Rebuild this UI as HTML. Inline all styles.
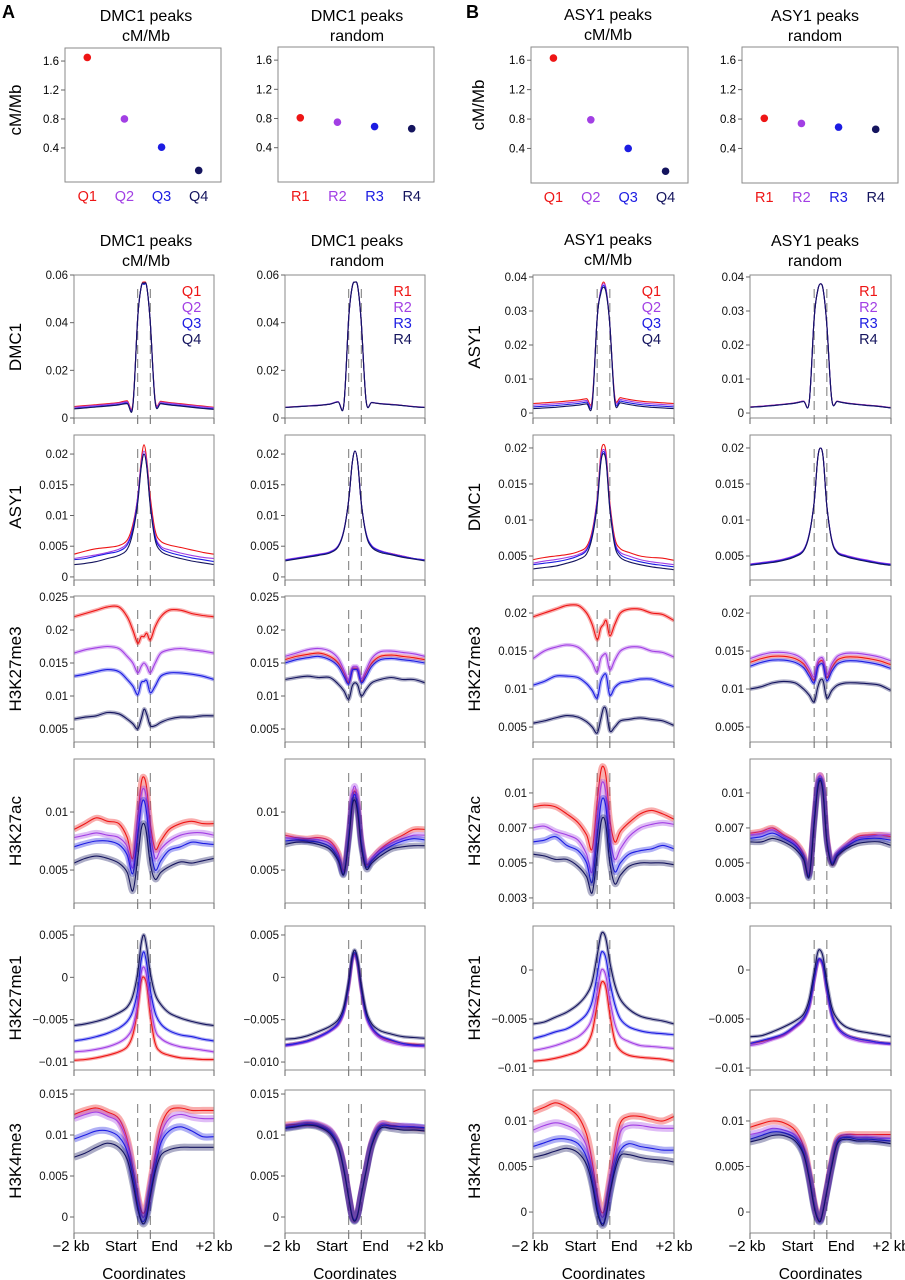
<!DOCTYPE html>
<html><head><meta charset="utf-8">
<style>
html,body{margin:0;padding:0;background:#fff;}
svg{display:block;font-family:"Liberation Sans",Arial,sans-serif;}
</style></head>
<body>
<svg id="fig" width="905" height="1280" viewBox="0 0 905 1280" xmlns="http://www.w3.org/2000/svg">
<text x="2" y="18" font-size="18" font-weight="bold">A</text>
<text x="466" y="18" font-size="18" font-weight="bold">B</text>
</svg>
<script>
// ---------- data ----------
const colors = ["#ee1515","#a23fe4","#1c1ce2","#14145e"];
const xPoints = [0,8,16,24,32,38,42,45.5,48,50,52,54.5,58,62,68,76,84,92,100];
const qLabels = ["Q1","Q2","Q3","Q4"];
const rLabels = ["R1","R2","R3","R4"];
const scatterTicks = [0.4,0.8,1.2,1.6];
const dmc1Quart = [1.65,0.80,0.41,0.09];
const dmc1Rand = [0.81,0.75,0.69,0.66];
const asy1Quart = [1.63,0.79,0.40,0.09];
const asy1Rand = [0.81,0.74,0.69,0.66];

const aDmc1Q = [
[0.0048,0.0052,0.0056,0.006,0.0065,0.0072,0.0058,0.042,0.055,0.057,0.055,0.04,0.0075,0.007,0.0065,0.006,0.0055,0.005,0.0045],
[0.0045,0.0049,0.0053,0.0057,0.0062,0.0068,0.0055,0.042,0.055,0.0565,0.055,0.04,0.0072,0.0067,0.0062,0.0057,0.0052,0.0047,0.0043],
[0.004,0.0044,0.0048,0.0052,0.0057,0.0063,0.005,0.042,0.055,0.056,0.055,0.04,0.0067,0.0062,0.0057,0.0052,0.0047,0.0042,0.0038],
[0.0038,0.0042,0.0046,0.005,0.0055,0.006,0.0048,0.042,0.055,0.0565,0.055,0.04,0.0065,0.006,0.0055,0.005,0.0045,0.004,0.0036]];
const aDmc1R = [
[0.0045,0.0048,0.005,0.0053,0.0058,0.0068,0.0055,0.042,0.055,0.057,0.055,0.04,0.007,0.0065,0.006,0.0057,0.0053,0.0048,0.0045],
[0.0045,0.0048,0.0051,0.0054,0.0059,0.0069,0.0055,0.042,0.055,0.057,0.055,0.04,0.007,0.0066,0.0061,0.0057,0.0053,0.0048,0.0045],
[0.0044,0.0047,0.005,0.0053,0.0058,0.0067,0.0054,0.042,0.055,0.057,0.055,0.04,0.0069,0.0065,0.006,0.0056,0.0052,0.0047,0.0044],
[0.0044,0.0047,0.005,0.0053,0.0058,0.0067,0.0054,0.042,0.055,0.057,0.055,0.04,0.0069,0.0065,0.006,0.0056,0.0052,0.0047,0.0044]];
const aAsy1Q = [
[0.0037,0.0042,0.0046,0.0048,0.0051,0.006,0.0085,0.013,0.019,0.0215,0.019,0.013,0.0075,0.0058,0.0052,0.0048,0.0044,0.004,0.0037],
[0.003,0.0033,0.0036,0.004,0.0045,0.0055,0.008,0.013,0.0185,0.0205,0.0185,0.012,0.0068,0.005,0.0044,0.0039,0.0035,0.0032,0.003],
[0.0028,0.003,0.0034,0.0038,0.0042,0.0052,0.0078,0.0125,0.018,0.02,0.018,0.0118,0.0065,0.0047,0.004,0.0035,0.0031,0.0028,0.0025],
[0.002,0.0022,0.0025,0.003,0.0035,0.0045,0.0072,0.012,0.0178,0.02,0.0178,0.0115,0.006,0.0042,0.0035,0.003,0.0026,0.0023,0.002]];
const aAsy1R = [
[0.0028,0.003,0.0033,0.0036,0.004,0.005,0.0075,0.0125,0.0185,0.0205,0.0185,0.012,0.007,0.005,0.0042,0.0038,0.0034,0.003,0.0028],
[0.0028,0.0031,0.0034,0.0037,0.0041,0.0051,0.0076,0.0125,0.0185,0.0205,0.0185,0.012,0.0071,0.0051,0.0043,0.0038,0.0034,0.003,0.0028],
[0.0027,0.003,0.0033,0.0036,0.004,0.005,0.0075,0.0125,0.0185,0.0205,0.0185,0.012,0.007,0.005,0.0042,0.0037,0.0033,0.003,0.0027],
[0.0026,0.0029,0.0032,0.0035,0.0039,0.0049,0.0074,0.0125,0.0185,0.0205,0.0185,0.012,0.0068,0.0048,0.004,0.0036,0.0032,0.0029,0.0026]];
const aK27me3Q = [
[0.022,0.0225,0.023,0.0235,0.0235,0.022,0.02,0.018,0.019,0.019,0.0195,0.0185,0.0205,0.022,0.023,0.023,0.0225,0.0222,0.022],
[0.0165,0.017,0.0173,0.0175,0.0172,0.016,0.015,0.0135,0.0145,0.015,0.0145,0.0135,0.015,0.0165,0.017,0.0172,0.017,0.0168,0.0165],
[0.013,0.0133,0.0137,0.014,0.0137,0.0125,0.0115,0.0102,0.012,0.0122,0.0123,0.0105,0.0115,0.013,0.0135,0.0135,0.0133,0.013,0.0125],
[0.0065,0.0068,0.007,0.0075,0.0073,0.0065,0.0058,0.005,0.0065,0.008,0.0072,0.0055,0.0055,0.006,0.0065,0.0068,0.0068,0.007,0.007]];
const aK27me3R = [
[0.0155,0.016,0.0163,0.0165,0.016,0.015,0.0135,0.012,0.014,0.0142,0.014,0.0122,0.0135,0.015,0.016,0.0162,0.016,0.0158,0.0155],
[0.016,0.0165,0.017,0.0172,0.0168,0.0157,0.014,0.0125,0.0143,0.0145,0.0143,0.0126,0.014,0.0157,0.0167,0.0168,0.0166,0.0164,0.016],
[0.015,0.0155,0.0158,0.016,0.0155,0.0145,0.013,0.0118,0.0138,0.014,0.0138,0.012,0.013,0.0145,0.0155,0.0157,0.0155,0.0153,0.015],
[0.0125,0.0128,0.013,0.0128,0.0128,0.0118,0.0108,0.0095,0.0115,0.012,0.0116,0.01,0.011,0.012,0.0125,0.0128,0.0125,0.0125,0.012]];
const aK27acQ = [
[0.0085,0.009,0.0095,0.0092,0.009,0.0078,0.006,0.0095,0.0125,0.013,0.012,0.009,0.0068,0.0075,0.0085,0.009,0.0092,0.009,0.009],
[0.0078,0.008,0.0082,0.008,0.0078,0.007,0.0052,0.009,0.0115,0.012,0.011,0.0082,0.006,0.0068,0.0075,0.008,0.0082,0.0082,0.008],
[0.007,0.0073,0.0075,0.0075,0.0072,0.0063,0.0047,0.008,0.0105,0.011,0.0098,0.007,0.005,0.0058,0.0067,0.007,0.0074,0.0073,0.0072],
[0.0056,0.006,0.0062,0.006,0.0056,0.0048,0.0032,0.006,0.0085,0.009,0.008,0.0055,0.0042,0.0048,0.0053,0.0057,0.0056,0.0058,0.006]];
const aK27acR = [
[0.008,0.0078,0.0077,0.0078,0.0075,0.0065,0.005,0.008,0.011,0.0118,0.0105,0.0075,0.0055,0.006,0.0068,0.0075,0.008,0.0085,0.0085],
[0.0078,0.0077,0.0076,0.0076,0.0073,0.0063,0.0049,0.0082,0.0115,0.0122,0.0108,0.0076,0.0056,0.006,0.0067,0.0073,0.0077,0.008,0.008],
[0.0075,0.0076,0.0075,0.0074,0.007,0.006,0.0047,0.0078,0.0108,0.0115,0.0102,0.0073,0.0053,0.0058,0.0065,0.0071,0.0075,0.0077,0.0076],
[0.0072,0.0074,0.0074,0.0072,0.0068,0.0058,0.0046,0.0075,0.0105,0.011,0.0098,0.007,0.0051,0.0056,0.0062,0.0068,0.007,0.0071,0.0071]];
const aK27me1Q = [
[-0.0098,-0.0097,-0.0095,-0.0092,-0.0088,-0.0082,-0.0068,-0.0038,-0.0005,0.0,-0.001,-0.0045,-0.0078,-0.0088,-0.0092,-0.0095,-0.0096,-0.0097,-0.0097],
[-0.0088,-0.0087,-0.0085,-0.0082,-0.0077,-0.007,-0.0058,-0.003,0.0005,0.0012,0.0,-0.003,-0.0062,-0.0072,-0.0078,-0.0082,-0.0084,-0.0086,-0.0088],
[-0.0075,-0.0073,-0.007,-0.0066,-0.006,-0.0052,-0.004,-0.0015,0.002,0.003,0.0015,-0.0015,-0.0042,-0.0055,-0.0063,-0.0068,-0.007,-0.0073,-0.0075],
[-0.0057,-0.0055,-0.0052,-0.0048,-0.0042,-0.0035,-0.0022,0.0005,0.004,0.005,0.0035,0.0005,-0.002,-0.0032,-0.0042,-0.0048,-0.0052,-0.0055,-0.0057]];
const aK27me1R = [
[-0.008,-0.0078,-0.0075,-0.007,-0.0063,-0.0055,-0.004,-0.001,0.002,0.0027,0.0015,-0.0015,-0.0045,-0.006,-0.007,-0.0075,-0.0078,-0.0079,-0.008],
[-0.0081,-0.0079,-0.0076,-0.0071,-0.0064,-0.0056,-0.0041,-0.0011,0.0019,0.0025,0.0014,-0.0016,-0.0047,-0.0062,-0.0072,-0.0077,-0.008,-0.0081,-0.0082],
[-0.008,-0.0078,-0.0075,-0.007,-0.0063,-0.0054,-0.0039,-0.0008,0.0022,0.0029,0.0017,-0.0013,-0.0044,-0.0059,-0.0069,-0.0074,-0.0078,-0.008,-0.008],
[-0.0073,-0.0072,-0.0069,-0.0064,-0.0058,-0.005,-0.0035,-0.0005,0.0025,0.0032,0.002,-0.001,-0.004,-0.0055,-0.0063,-0.0067,-0.007,-0.0071,-0.0072]];
const aK4me3Q = [
[0.0125,0.013,0.0133,0.0128,0.012,0.0095,0.006,0.0025,0.0008,0.0005,0.0015,0.004,0.0075,0.011,0.013,0.0133,0.013,0.013,0.013],
[0.012,0.0125,0.0128,0.0123,0.0115,0.009,0.0055,0.002,0.0003,0.0,0.001,0.0035,0.0068,0.01,0.012,0.0125,0.0122,0.012,0.012],
[0.0095,0.01,0.0105,0.0105,0.0098,0.008,0.005,0.0015,-0.0003,-0.0005,0.0005,0.003,0.006,0.009,0.0105,0.011,0.0105,0.0098,0.0098],
[0.0073,0.0078,0.0085,0.009,0.0085,0.007,0.0042,0.001,-0.0005,-0.0008,0.0,0.0025,0.0055,0.0075,0.0082,0.0085,0.0085,0.0085,0.0085]];
const aK4me3R = [
[0.0112,0.0113,0.0114,0.0112,0.0105,0.0088,0.006,0.0025,0.0002,-0.0003,0.0005,0.0028,0.0058,0.009,0.0112,0.0112,0.011,0.0109,0.0108],
[0.011,0.0112,0.0115,0.0113,0.0106,0.0088,0.006,0.0025,0.0002,-0.0003,0.0005,0.0028,0.0058,0.009,0.0113,0.011,0.0111,0.011,0.0108],
[0.0109,0.0111,0.0113,0.0111,0.0104,0.0087,0.0059,0.0024,0.0001,-0.0004,0.0004,0.0027,0.0057,0.0089,0.011,0.0111,0.011,0.011,0.0109],
[0.0108,0.011,0.0112,0.011,0.0102,0.0085,0.0057,0.0023,0.0,-0.0005,0.0003,0.0026,0.0056,0.0087,0.0108,0.0108,0.0106,0.0106,0.0105]];

const bAsy1Q = [
[0.0028,0.003,0.0032,0.0035,0.0038,0.0042,0.004,0.028,0.036,0.0385,0.036,0.026,0.0048,0.0045,0.004,0.0035,0.0032,0.003,0.0028],
[0.0023,0.0025,0.0027,0.003,0.0033,0.0037,0.0035,0.028,0.036,0.038,0.036,0.026,0.0043,0.004,0.0035,0.003,0.0027,0.0025,0.0023],
[0.0018,0.002,0.0022,0.0025,0.0028,0.0032,0.003,0.028,0.0355,0.0375,0.0355,0.026,0.0038,0.0035,0.003,0.0025,0.0022,0.002,0.0018],
[0.0013,0.0015,0.0017,0.002,0.0023,0.0027,0.0025,0.028,0.035,0.037,0.035,0.026,0.0033,0.003,0.0025,0.002,0.0017,0.0015,0.0013]];
const bAsy1R = [
[0.0018,0.002,0.0023,0.0026,0.003,0.0035,0.0033,0.028,0.036,0.038,0.036,0.026,0.004,0.0035,0.003,0.0026,0.0023,0.002,0.0016],
[0.0018,0.002,0.0023,0.0026,0.003,0.0035,0.0033,0.028,0.036,0.038,0.036,0.026,0.004,0.0035,0.003,0.0026,0.0023,0.002,0.0016],
[0.0017,0.0019,0.0022,0.0025,0.0029,0.0034,0.0032,0.028,0.036,0.038,0.036,0.026,0.0039,0.0034,0.0029,0.0025,0.0022,0.0019,0.0015],
[0.0017,0.0019,0.0022,0.0025,0.0029,0.0034,0.0032,0.028,0.036,0.038,0.036,0.026,0.0039,0.0034,0.0029,0.0025,0.0022,0.0019,0.0015]];
const bDmc1Q = [
[0.0045,0.0048,0.005,0.0052,0.0056,0.0063,0.0085,0.013,0.019,0.0205,0.019,0.0125,0.0075,0.006,0.0055,0.005,0.0048,0.0047,0.0044],
[0.004,0.0043,0.0045,0.0048,0.0052,0.006,0.0082,0.0128,0.0185,0.0198,0.0185,0.012,0.007,0.0055,0.005,0.0045,0.0042,0.004,0.0038],
[0.0038,0.004,0.0042,0.0045,0.005,0.0058,0.008,0.0125,0.018,0.0195,0.018,0.0118,0.0068,0.0052,0.0046,0.0042,0.0039,0.0037,0.0035],
[0.0032,0.0034,0.0036,0.004,0.0045,0.0053,0.0076,0.012,0.0178,0.0192,0.0178,0.0115,0.0064,0.0048,0.0042,0.0038,0.0035,0.0033,0.0031]];
const bDmc1R = [
[0.0038,0.004,0.0042,0.0045,0.005,0.0058,0.008,0.0125,0.0185,0.02,0.0185,0.012,0.0072,0.0055,0.005,0.0046,0.0043,0.004,0.0038],
[0.0039,0.0041,0.0043,0.0046,0.0051,0.0059,0.0081,0.0125,0.0185,0.02,0.0185,0.012,0.0073,0.0056,0.0051,0.0047,0.0044,0.0041,0.0039],
[0.0038,0.004,0.0042,0.0045,0.005,0.0058,0.008,0.0125,0.0185,0.02,0.0185,0.012,0.0072,0.0055,0.005,0.0046,0.0043,0.004,0.0038],
[0.0037,0.0039,0.0041,0.0044,0.0049,0.0057,0.0079,0.0125,0.0185,0.02,0.0185,0.012,0.0071,0.0054,0.0049,0.0045,0.0042,0.0039,0.0037]];
const bK27me3Q = [
[0.0195,0.02,0.0205,0.021,0.021,0.02,0.0185,0.0165,0.018,0.0185,0.019,0.017,0.0185,0.02,0.0205,0.0205,0.02,0.0198,0.019],
[0.014,0.015,0.0155,0.0158,0.0155,0.0145,0.0135,0.0122,0.014,0.0145,0.0145,0.0125,0.0138,0.015,0.0155,0.0155,0.015,0.0148,0.0142],
[0.0105,0.011,0.0117,0.0117,0.0115,0.0107,0.0098,0.0088,0.011,0.0118,0.0118,0.0092,0.0102,0.0108,0.011,0.0113,0.0113,0.0108,0.0103],
[0.0055,0.0058,0.0062,0.0065,0.0063,0.0057,0.005,0.0042,0.006,0.0075,0.0072,0.0045,0.005,0.0058,0.006,0.0062,0.006,0.0058,0.0052]];
const bK27me3R = [
[0.0135,0.014,0.0143,0.0143,0.014,0.0133,0.0122,0.0112,0.0132,0.0137,0.0135,0.0115,0.0128,0.0138,0.0142,0.0142,0.014,0.0137,0.0132],
[0.014,0.0145,0.0148,0.0148,0.0145,0.0138,0.0127,0.0116,0.0136,0.0141,0.0139,0.0119,0.0133,0.0143,0.0147,0.0147,0.0145,0.0142,0.0137],
[0.013,0.0135,0.0138,0.0138,0.0135,0.0128,0.0117,0.0108,0.0128,0.0133,0.0131,0.0111,0.0123,0.0133,0.0137,0.0137,0.0135,0.0132,0.0127],
[0.01,0.0103,0.0108,0.011,0.0108,0.01,0.0092,0.0083,0.0102,0.0112,0.011,0.0088,0.0098,0.0105,0.0108,0.0108,0.0107,0.0105,0.0098]];
const bK27acQ = [
[0.0082,0.0083,0.0082,0.0078,0.0073,0.0066,0.0058,0.0085,0.0102,0.0105,0.0098,0.0075,0.0062,0.0068,0.0073,0.0078,0.008,0.0078,0.0075],
[0.007,0.0071,0.0068,0.0066,0.0063,0.0055,0.0045,0.0075,0.0093,0.0096,0.0088,0.0065,0.0052,0.0058,0.0065,0.007,0.0072,0.0073,0.0072],
[0.0062,0.0063,0.0065,0.006,0.0057,0.005,0.0039,0.0065,0.0083,0.0087,0.008,0.0058,0.0045,0.005,0.0055,0.0057,0.0058,0.006,0.0058],
[0.0055,0.0054,0.0052,0.0052,0.0048,0.0042,0.0033,0.0055,0.0072,0.0076,0.007,0.005,0.0038,0.0043,0.0048,0.005,0.005,0.005,0.0049]];
const bK27acR = [
[0.0067,0.0068,0.007,0.0066,0.0062,0.0055,0.0044,0.0075,0.0095,0.01,0.0092,0.0065,0.005,0.0055,0.006,0.0065,0.0066,0.0066,0.0065],
[0.0066,0.0067,0.0069,0.0065,0.0061,0.0054,0.0044,0.0076,0.0096,0.01,0.0092,0.0065,0.0051,0.0056,0.006,0.0064,0.0065,0.0066,0.0066],
[0.0064,0.0065,0.0067,0.0064,0.006,0.0053,0.0043,0.0074,0.0094,0.0098,0.009,0.0063,0.005,0.0055,0.0059,0.0063,0.0064,0.0064,0.0063],
[0.0062,0.0062,0.0064,0.0062,0.0058,0.0052,0.0042,0.0072,0.0092,0.0097,0.0088,0.0062,0.0049,0.0054,0.0058,0.0061,0.0062,0.0062,0.006]];
const bK27me1Q = [
[-0.0093,-0.0092,-0.009,-0.0087,-0.0083,-0.0076,-0.0063,-0.0035,-0.0015,-0.0012,-0.002,-0.0045,-0.0072,-0.0082,-0.0087,-0.0089,-0.009,-0.0091,-0.0093],
[-0.0082,-0.008,-0.0077,-0.0073,-0.0068,-0.006,-0.0048,-0.0022,-0.0002,0.0,-0.0008,-0.003,-0.0055,-0.0068,-0.0073,-0.0077,-0.0078,-0.0079,-0.008],
[-0.007,-0.0067,-0.0063,-0.006,-0.0053,-0.0045,-0.0032,-0.0005,0.0016,0.0018,0.001,-0.0012,-0.0035,-0.005,-0.0058,-0.0062,-0.0064,-0.0065,-0.0066],
[-0.0055,-0.0053,-0.0048,-0.0043,-0.0035,-0.0025,-0.0012,0.0015,0.0035,0.0038,0.003,0.0008,-0.0015,-0.003,-0.004,-0.0047,-0.005,-0.0052,-0.0055]];
const bK27me1R = [
[-0.0075,-0.0073,-0.007,-0.0066,-0.0058,-0.005,-0.0037,-0.001,0.0008,0.001,0.0003,-0.002,-0.0045,-0.0058,-0.0066,-0.007,-0.0072,-0.0074,-0.0075],
[-0.0077,-0.0075,-0.0071,-0.0067,-0.0059,-0.0051,-0.0038,-0.0011,0.0007,0.0009,0.0002,-0.0021,-0.0047,-0.006,-0.0068,-0.0072,-0.0074,-0.0075,-0.0076],
[-0.0075,-0.0072,-0.0069,-0.0065,-0.0057,-0.0049,-0.0036,-0.0009,0.0009,0.0011,0.0004,-0.0019,-0.0045,-0.0058,-0.0066,-0.007,-0.0072,-0.0074,-0.0075],
[-0.0068,-0.0067,-0.0063,-0.0058,-0.0052,-0.0045,-0.003,-0.0002,0.0018,0.002,0.0012,-0.0012,-0.0038,-0.005,-0.0058,-0.0062,-0.0064,-0.0066,-0.0068]];
const bK4me3Q = [
[0.011,0.0115,0.012,0.0115,0.0105,0.0085,0.0055,0.002,0.0002,0.0,0.0012,0.0035,0.007,0.0098,0.0105,0.0105,0.0102,0.01,0.0105],
[0.009,0.0095,0.0098,0.0095,0.0088,0.0072,0.0045,0.0012,-0.0003,-0.0005,0.0005,0.003,0.006,0.0088,0.0095,0.0095,0.0093,0.0092,0.0092],
[0.0072,0.0076,0.008,0.008,0.0075,0.006,0.0035,0.0005,-0.001,-0.0012,0.0,0.0022,0.005,0.0068,0.0075,0.0072,0.007,0.0068,0.0068],
[0.006,0.0063,0.0067,0.007,0.0065,0.0052,0.003,0.0,-0.0012,-0.0014,-0.0003,0.002,0.0045,0.0062,0.0063,0.006,0.0058,0.0057,0.0055]];
const bK4me3R = [
[0.0093,0.0097,0.01,0.0098,0.009,0.0072,0.0042,0.001,-0.0005,-0.0007,0.0005,0.0025,0.0055,0.008,0.0085,0.0085,0.0085,0.0085,0.0085],
[0.0085,0.0088,0.0092,0.009,0.0084,0.0068,0.004,0.0008,-0.0006,-0.0008,0.0004,0.0024,0.0053,0.0078,0.0083,0.0082,0.0082,0.0081,0.0081],
[0.008,0.0084,0.0088,0.0087,0.0081,0.0065,0.0038,0.0007,-0.0007,-0.0009,0.0003,0.0023,0.0052,0.0077,0.0082,0.008,0.008,0.0079,0.0078],
[0.0077,0.008,0.0084,0.0084,0.0078,0.0063,0.0036,0.0005,-0.0008,-0.001,0.0002,0.0022,0.005,0.0075,0.008,0.0078,0.0078,0.0077,0.0075]];

const ticksAsy1A = [0,0.005,0.01,0.015,0.02];
const ticksK27me3A = [0.005,0.01,0.015,0.02,0.025];
const ticksK27acA = [0.005,0.01];
const ticksK27me1A = [-0.01,-0.005,0,0.005];
const ticksK4me3A = [0,0.005,0.01,0.015];
const ticksDmc1A = [0,0.02,0.04,0.06];
const ticksAsy1B = [0,0.01,0.02,0.03,0.04];
const ticksDmc1B = [0.005,0.01,0.015,0.02];
const ticksK27me3B = [0.005,0.01,0.015,0.02];
const ticksK27acB = [0.003,0.005,0.007,0.009];
const tickLabelsK27acB = ["0.003","0.005","0.007","0.01"];
const ticksK27me1B = [-0.01,-0.005,0];
const ticksK4me3B = [0,0.005,0.01];

// ---------- layout ----------
const svg = document.getElementById('fig');
const NS = "http://www.w3.org/2000/svg";
const cols = {aL:[74,214],aR:[285,425],bL:[533,674],bR:[750,891]};
const rows = [[275,418],[435,580],[596,742],[759,903],[926,1070],[1090,1233]];
const START = 45.5, END = 54.5;

function mk(tag, attrs, parent){
  const e = document.createElementNS(NS, tag);
  for (const k in attrs) e.setAttribute(k, attrs[k]);
  (parent||svg).appendChild(e);
  return e;
}
function txt(str, attrs, parent){ const t = mk('text', attrs, parent); t.textContent = str; return t; }
function fmt(v){ if (v===0) return "0"; let s = String(+v.toFixed(4)); return s.replace('-', '\u2212'); }

function smoothPath(pts){
  let d = `M${pts[0][0].toFixed(1)},${pts[0][1].toFixed(1)}`;
  for (let i=0;i<pts.length-1;i++){
    const p0 = pts[i-1]||pts[i], p1 = pts[i], p2 = pts[i+1], p3 = pts[i+2]||p2;
    const c1 = [p1[0]+(p2[0]-p0[0])/6, p1[1]+(p2[1]-p0[1])/6];
    const c2 = [p2[0]-(p3[0]-p1[0])/6, p2[1]-(p3[1]-p1[1])/6];
    d += `C${c1[0].toFixed(1)},${c1[1].toFixed(1)} ${c2[0].toFixed(1)},${c2[1].toFixed(1)} ${p2[0].toFixed(1)},${p2[1].toFixed(1)}`;
  }
  return d;
}

let clipId = 0;
function profile(name, col, row, domain, series, ticks, tickLabels, band, legend, bottomLabels){
  const [x0,x1] = cols[col], [y0,y1] = rows[row];
  const g = mk('g', {});
  
  
  const sx = v => x0 + (v/100)*(x1-x0);
  const sy = v => y1 - (v-domain[0])/(domain[1]-domain[0])*(y1-y0);
  const cid = 'c'+(clipId++);
  const cp = mk('clipPath', {id:cid}, g);
  mk('rect', {x:x0, y:y0, width:x1-x0, height:y1-y0}, cp);
  [START, END].forEach((v,i)=>{
    const l = mk('line', {x1:sx(v), x2:sx(v), y1:y0+14, y2:y1, stroke:'#777', 'stroke-width':1, 'stroke-dasharray':'9,5'}, g);
    
    
  });
  const sg = mk('g', {'clip-path':`url(#${cid})`}, g);
  series.forEach((vals, si)=>{
    const pts = vals.map((v,i)=>[sx(xPoints[i]), sy(v)]);
    const d = smoothPath(pts);
    if (band>0){
      const b = mk('path', {d, fill:'none', stroke:colors[si], 'stroke-opacity':0.35, 'stroke-width':band, 'stroke-linejoin':'round'}, sg);
      
      
    }
    const p = mk('path', {d, fill:'none', stroke:colors[si], 'stroke-width':1.1, 'stroke-linejoin':'round'}, sg);
    
    
  });
  const box = mk('rect', {x:x0, y:y0, width:x1-x0, height:y1-y0, fill:'none', stroke:'#8a8a8a', 'stroke-width':1}, g);
  
  
  [0, START, END, 100].forEach(v=>{
    const t = mk('line', {x1:sx(v), x2:sx(v), y1:y1, y2:y1+6, stroke:'#666', 'stroke-width':1}, g);
    
    
  });
  ticks.forEach((v,i)=>{
    const y = sy(v);
    const tl = mk('line', {x1:x0-4, x2:x0, y1:y, y2:y, stroke:'#666', 'stroke-width':1}, g);
    
    
    const t = txt(tickLabels ? tickLabels[i] : fmt(v), {x:x0-6, y:y+4, 'font-size':11.5, 'text-anchor':'end', fill:'#111'}, g);
    
    
  });
  if (legend){
    const lx = x0 + (x1-x0)*0.84;
    legend.forEach((s,i)=>{
      const t = txt(s, {x:lx, y:y0+21+i*16, 'font-size':14.5, 'text-anchor':'middle', fill:colors[i]}, g);
      
      
    });
  }
  if (bottomLabels){
    const a = txt('\u22122 kb', {x:x0-3, y:y1+18, 'font-size':15, 'text-anchor':'middle'}, g);
    
    
    const b = txt('Start', {x:sx(START)-1, y:y1+18, 'font-size':15, 'text-anchor':'end'}, g);
    
    
    const c = txt('End', {x:sx(END)+1, y:y1+18, 'font-size':15, 'text-anchor':'start'}, g);
    
    
    const e = txt('+2 kb', {x:x1, y:y1+18, 'font-size':15, 'text-anchor':'middle'}, g);
    
    
    const f = txt('Coordinates', {x:(x0+x1)/2, y:y1+46, 'font-size':15.5, 'text-anchor':'middle'}, g);
    
    
  }
}

function scatter(name, box, values, labels){
  const [x0,x1,y0,y1] = box;
  const g = mk('g', {});
  
  
  const sx = i => x0 + (i+1-0.4)/4.2*(x1-x0);
  const sy = v => y1 - (v+0.07)/(1.78+0.07)*(y1-y0);
  const r = mk('rect', {x:x0, y:y0, width:x1-x0, height:y1-y0, fill:'none', stroke:'#8a8a8a', 'stroke-width':1}, g);
  
  
  scatterTicks.forEach(v=>{
    const l = mk('line', {x1:x0-4, x2:x0, y1:sy(v), y2:sy(v), stroke:'#666'}, g);
    
    
    const t = txt(v.toFixed(1), {x:x0-6, y:sy(v)+4, 'font-size':11.5, 'text-anchor':'end'}, g);
    
    
  });
  values.forEach((v,i)=>{
    const c = mk('circle', {cx:sx(i), cy:sy(v), r:3.8, fill:colors[i]}, g);
    
    
    const t = txt(labels[i], {x:sx(i), y:y1+19, 'font-size':14.5, 'text-anchor':'middle', fill:colors[i]}, g);
    
    
  });
}

function title(lines, cx, y, nm){
  lines.forEach((s,i)=>{
    const t = txt(s, {x:cx, y:y+i*20, 'font-size':16, 'text-anchor':'middle'});
    
    
  });
}
function ylab(s, x, cy, nm){
  const t = txt(s, {x:x, y:cy, 'font-size':17, 'text-anchor':'middle', transform:`rotate(-90 ${x} ${cy})`});
  
  
}

title(['DMC1 peaks','cM/Mb'], 146, 21, 'title-dmc1-cmmb-scatter');
title(['DMC1 peaks','random'], 357, 21, 'title-dmc1-random-scatter');
title(['ASY1 peaks','cM/Mb'], 608, 20, 'title-asy1-cmmb-scatter');
title(['ASY1 peaks','random'], 815, 21, 'title-asy1-random-scatter');
title(['DMC1 peaks','cM/Mb'], 146, 246, 'title-dmc1-cmmb-profile');
title(['DMC1 peaks','random'], 357, 246, 'title-dmc1-random-profile');
title(['ASY1 peaks','cM/Mb'], 608, 245, 'title-asy1-cmmb-profile');
title(['ASY1 peaks','random'], 815, 246, 'title-asy1-random-profile');

scatter('scatter-dmc1-cmmb', [65,221,48,182], dmc1Quart, qLabels);
scatter('scatter-dmc1-random', [278,434,47,182], dmc1Rand, rLabels);
scatter('scatter-asy1-cmmb', [531,688,47,183], asy1Quart, qLabels);
scatter('scatter-asy1-random', [742,898,47,183], asy1Rand, rLabels);
ylab('cM/Mb', 21, 110, 'y-axis-title-cmmb-a');
ylab('cM/Mb', 484, 105, 'y-axis-title-cmmb-b');

profile('profile-a-dmc1-q','aL',0,[0,0.06],aDmc1Q,ticksDmc1A,null,0,qLabels,false);
profile('profile-a-dmc1-r','aR',0,[0,0.06],aDmc1R,ticksDmc1A,null,0,rLabels,false);
profile('profile-a-asy1-q','aL',1,[-0.0005,0.0231],aAsy1Q,ticksAsy1A,null,0,null,false);
profile('profile-a-asy1-r','aR',1,[-0.0005,0.0231],aAsy1R,ticksAsy1A,null,0,null,false);
profile('profile-a-k27me3-q','aL',2,[0.00303,0.02515],aK27me3Q,ticksK27me3A,null,4,null,false);
profile('profile-a-k27me3-r','aR',2,[0.00303,0.02515],aK27me3R,ticksK27me3A,null,4,null,false);
profile('profile-a-k27ac-q','aL',3,[0.00216,0.01457],aK27acQ,ticksK27acA,null,6,null,false);
profile('profile-a-k27ac-r','aR',3,[0.00216,0.01457],aK27acR,ticksK27acA,null,6,null,false);
profile('profile-a-k27me1-q','aL',4,[-0.01094,0.00606],aK27me1Q,ticksK27me1A,null,3.5,null,false);
profile('profile-a-k27me1-r','aR',4,[-0.01094,0.00606],aK27me1R,ticksK27me1A,["\u22120.010","\u22120.005","0","0.005"],3.5,null,false);
profile('profile-a-k4me3-q','aL',5,[-0.00195,0.01549],aK4me3Q,ticksK4me3A,null,7,null,true);
profile('profile-a-k4me3-r','aR',5,[-0.00195,0.01549],aK4me3R,ticksK4me3A,null,7,null,true);
ylab('DMC1', 21, 347, 'y-axis-title-dmc1-a');
ylab('ASY1', 21, 507, 'y-axis-title-asy1-a');
ylab('H3K27me3', 21, 669, 'y-axis-title-h3k27me3-a');
ylab('H3K27ac', 21, 831, 'y-axis-title-h3k27ac-a');
ylab('H3K27me1', 21, 998, 'y-axis-title-h3k27me1-a');
ylab('H3K4me3', 21, 1161, 'y-axis-title-h3k4me3-a');

profile('profile-b-asy1-q','bL',0,[-0.00146,0.04058],bAsy1Q,ticksAsy1B,null,0,qLabels,false);
profile('profile-b-asy1-r','bR',0,[-0.00146,0.04058],bAsy1R,ticksAsy1B,null,0,rLabels,false);
profile('profile-b-dmc1-q','bL',1,[0.00167,0.0218],bDmc1Q,ticksDmc1B,null,0,null,false);
profile('profile-b-dmc1-r','bR',1,[0.00167,0.0218],bDmc1R,ticksDmc1B,null,0,null,false);
profile('profile-b-k27me3-q','bL',2,[0.00303,0.02224],bK27me3Q,ticksK27me3B,null,4,null,false);
profile('profile-b-k27me3-r','bR',2,[0.00303,0.02224],bK27me3R,ticksK27me3B,null,4,null,false);
profile('profile-b-k27ac-q','bL',3,[0.00271,0.01094],bK27acQ,ticksK27acB,tickLabelsK27acB,6,null,false);
profile('profile-b-k27ac-r','bR',3,[0.00271,0.01094],bK27acR,ticksK27acB,tickLabelsK27acB,6,null,false);
profile('profile-b-k27me1-q','bL',4,[-0.0102,0.00449],bK27me1Q,ticksK27me1B,null,3.5,null,false);
profile('profile-b-k27me1-r','bR',4,[-0.0102,0.00449],bK27me1R,ticksK27me1B,null,3.5,null,false);
profile('profile-b-k4me3-q','bL',5,[-0.0023,0.0134],bK4me3Q,ticksK4me3B,null,7,null,true);
profile('profile-b-k4me3-r','bR',5,[-0.0023,0.0134],bK4me3R,ticksK4me3B,null,7,null,true);
ylab('ASY1', 480, 347, 'y-axis-title-asy1-b');
ylab('DMC1', 480, 507, 'y-axis-title-dmc1-b');
ylab('H3K27me3', 480, 669, 'y-axis-title-h3k27me3-b');
ylab('H3K27ac', 480, 831, 'y-axis-title-h3k27ac-b');
ylab('H3K27me1', 480, 998, 'y-axis-title-h3k27me1-b');
ylab('H3K4me3', 480, 1161, 'y-axis-title-h3k4me3-b');
</script>
</body></html>
